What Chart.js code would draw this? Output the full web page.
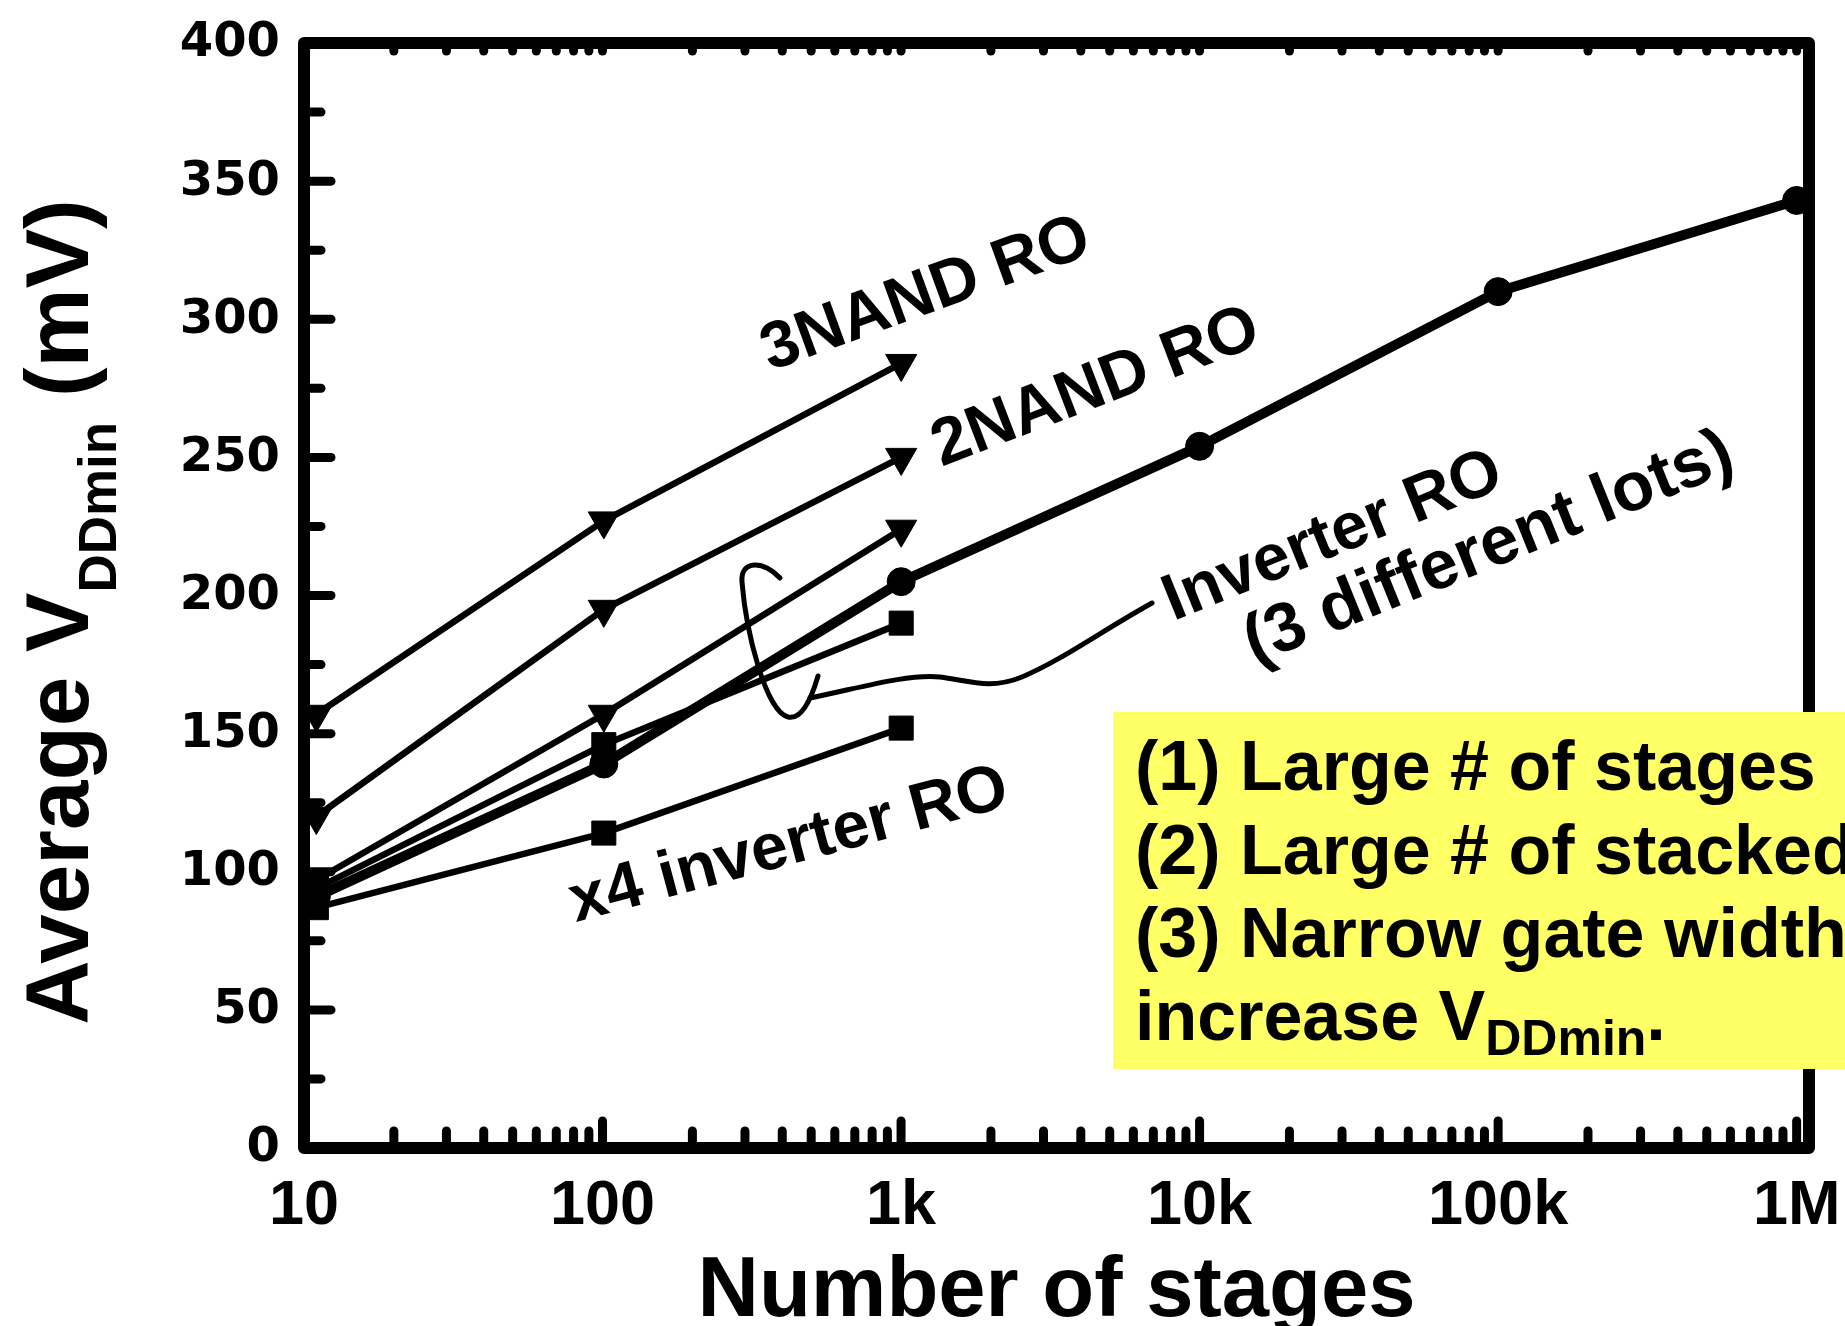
<!DOCTYPE html>
<html>
<head>
<meta charset="utf-8">
<script src="https://cdn.jsdelivr.net/npm/chart.js@4.4.1/dist/chart.umd.min.js"></script>
<style>
  html, body { margin: 0; padding: 0; background: #fff; }
  #chart { display: block; }
</style>
</head>
<body>
<canvas id="chart" width="1845" height="1326"></canvas>
<script>
// ring oscillators use odd stage counts, so the points sit just right of each decade
const STAGES = [11, 101, 1001, 10001, 100001, 1000001];

const INVERTER_LOT_A = [91, 139, 205, 254, 310, 343];
const INVERTER_LOT_B = [97, 157, 224];
const INVERTER_LOT_C = [94, 146, 190];
const NAND2_RO = [120, 195, 250];
const NAND3_RO = [157, 227, 284];
const X4_INVERTER_RO = [87, 114, 152];

const X_TICK_VALUES = [10, 100, 1000, 10000, 100000, 1000000];
const X_TICK_LABELS = ["10", "100", "1k", "10k", "100k", "1M"];
const Y_TICK_VALUES = [0, 50, 100, 150, 200, 250, 300, 350, 400];
const Y_TICK_LABELS = ["0", "50", "100", "150", "200", "250", "300", "350", "400"];

const NOTE_LINES = ["(1) Large # of stages", "(2) Large # of stacked", "(3) Narrow gate width"];

const FONT = '"Liberation Sans", Arial, sans-serif';
const Y_TICK_FONT = '"DejaVu Sans", Verdana, sans-serif';

const SERIES_LABELS = [
  { text: "3NAND RO", x: 926, y: 295, angle: 20, size: 66 },
  { text: "2NAND RO", x: 1096, y: 388, angle: 21, size: 66 },
  { text: "Inverter RO", x: 1333, y: 537, angle: 22, size: 66 },
  { text: "(3 different lots)", x: 1489, y: 549, angle: 22, size: 69 },
  { text: "x4 inverter RO", x: 789, y: 846, angle: 15, size: 66 },
];

function toPoints(values) {
  return values.map((value, index) => ({ x: STAGES[index], y: value }));
}

function seriesDataset(label, values, pointStyle, extra = {}) {
  const radius = pointStyle === "circle" ? 14 : pointStyle === "rect" ? 17 : 18;
  return {
    label,
    data: toPoints(values),
    borderColor: "#000",
    backgroundColor: "#000",
    borderWidth: 6.5,
    borderJoinStyle: "round",
    borderCapStyle: "round",
    pointStyle,
    pointRadius: radius,
    pointRotation: pointStyle === "triangle" ? 180 : 0,
    pointBackgroundColor: "#000",
    pointBorderColor: "#000",
    pointBorderWidth: 1,
    tension: 0,
    clip: false,
    ...extra,
  };
}

function drawRuns(ctx, runs, x, y, align) {
  let total = 0;
  runs.forEach((run) => {
    ctx.font = `bold ${run.size}px ${FONT}`;
    run.width = ctx.measureText(run.text).width;
    total += run.width;
  });
  let cursor = align === "center" ? x - total / 2 : x;
  ctx.textAlign = "left";
  ctx.textBaseline = "alphabetic";
  runs.forEach((run) => {
    ctx.font = `bold ${run.size}px ${FONT}`;
    ctx.fillText(run.text, cursor, y + (run.dy || 0));
    cursor += run.width;
  });
}

const framePlugin = {
  id: "frameAndNotes",
  afterDatasetsDraw(chart) {
    const { ctx, chartArea } = chart;
    const xScale = chart.scales.x;
    const yScale = chart.scales.y;
    const left = chartArea.left;
    const right = chartArea.right;
    const top = chartArea.top;
    const bottom = chartArea.bottom;

    ctx.save();
    ctx.strokeStyle = "#000";
    ctx.fillStyle = "#000";
    ctx.lineCap = "round";
    ctx.lineJoin = "round";

    // frame
    ctx.lineWidth = 12;
    ctx.strokeRect(left, top, right - left, bottom - top);

    // inward ticks
    ctx.lineWidth = 9;
    const tick = (x1, y1, x2, y2) => {
      ctx.beginPath();
      ctx.moveTo(x1, y1);
      ctx.lineTo(x2, y2);
      ctx.stroke();
    };
    X_TICK_VALUES.forEach((decade, index) => {
      const x = xScale.getPixelForValue(decade);
      tick(x, bottom, x, bottom - 27);
      tick(x, top, x, top + 8);
      if (index === X_TICK_VALUES.length - 1) return;
      for (let k = 2; k <= 9; k++) {
        const mx = xScale.getPixelForValue(decade * k);
        tick(mx, bottom, mx, bottom - 17);
        tick(mx, top, mx, top + 8);
      }
    });
    for (let v = 0; v <= 400; v += 25) {
      const y = yScale.getPixelForValue(v);
      tick(left, y, left + (v % 50 === 0 ? 27 : 17), y);
    }

    // tick labels
    ctx.font = `bold 48px ${Y_TICK_FONT}`;
    ctx.textAlign = "right";
    ctx.textBaseline = "middle";
    Y_TICK_VALUES.forEach((value, index) => {
      ctx.fillText(Y_TICK_LABELS[index], left - 24, yScale.getPixelForValue(value) + 1);
    });
    ctx.font = `bold 63px ${FONT}`;
    ctx.textAlign = "center";
    ctx.textBaseline = "alphabetic";
    X_TICK_VALUES.forEach((value, index) => {
      ctx.fillText(X_TICK_LABELS[index], xScale.getPixelForValue(value), bottom + 76);
    });

    // axis titles
    ctx.font = `bold 85px ${FONT}`;
    ctx.fillText("Number of stages", (left + right) / 2, 1316);

    ctx.save();
    ctx.translate(88, 612);
    ctx.rotate(-Math.PI / 2);
    drawRuns(ctx, [
      { text: "Average V", size: 89 },
      { text: "DDmin", size: 53, dy: 28 },
      { text: " (mV)", size: 89 },
    ], 0, 0, "center");
    ctx.restore();

    // series labels
    SERIES_LABELS.forEach((item) => {
      ctx.save();
      ctx.translate(item.x, item.y);
      ctx.rotate((-item.angle * Math.PI) / 180);
      ctx.font = `bold ${item.size}px ${FONT}`;
      ctx.textAlign = "center";
      ctx.textBaseline = "middle";
      ctx.fillText(item.text, 0, 0);
      ctx.restore();
    });

    // loop round the three inverter lots, with its leader
    ctx.lineWidth = 5;
    ctx.beginPath();
    ctx.moveTo(780, 578);
    ctx.bezierCurveTo(765, 561, 740, 559, 742, 582);
    ctx.bezierCurveTo(746, 632, 766, 712, 788, 717);
    ctx.bezierCurveTo(801, 720, 811, 700, 818, 676);
    ctx.stroke();
    ctx.beginPath();
    ctx.moveTo(810, 698);
    ctx.bezierCurveTo(860, 688, 905, 674, 940, 677);
    ctx.bezierCurveTo(970, 681, 990, 690, 1022, 677);
    ctx.bezierCurveTo(1062, 660, 1100, 632, 1152, 603);
    ctx.stroke();

    // yellow note box
    ctx.fillStyle = "#ffff66";
    ctx.fillRect(1113, 712, 1845 - 1113, 1069 - 712);
    ctx.fillStyle = "#000";
    ctx.font = `bold 70px ${FONT}`;
    ctx.textAlign = "left";
    ctx.textBaseline = "alphabetic";
    NOTE_LINES.forEach((line, index) => {
      ctx.fillText(line, 1135, 790 + index * 83.5);
    });
    drawRuns(ctx, [
      { text: "increase V", size: 70 },
      { text: "DDmin", size: 50, dy: 15 },
      { text: ".", size: 70 },
    ], 1135, 1040, "left");

    ctx.restore();
  },
};

new Chart(document.getElementById("chart").getContext("2d"), {
  type: "line",
  data: {
    datasets: [
      seriesDataset("Inverter RO lot A", INVERTER_LOT_A, "circle", { borderWidth: 10 }),
      seriesDataset("Inverter RO lot B", INVERTER_LOT_B, "triangle"),
      seriesDataset("Inverter RO lot C", INVERTER_LOT_C, "rect"),
      seriesDataset("2NAND RO", NAND2_RO, "triangle"),
      seriesDataset("3NAND RO", NAND3_RO, "triangle"),
      seriesDataset("x4 inverter RO", X4_INVERTER_RO, "rect"),
    ],
  },
  options: {
    responsive: false,
    animation: false,
    layout: { padding: { left: 304, right: 36, top: 43, bottom: 178 } },
    plugins: { legend: { display: false }, tooltip: { enabled: false } },
    scales: {
      x: { type: "logarithmic", min: 10, max: 1.1e6, display: false },
      y: { type: "linear", min: 0, max: 400, display: false },
    },
  },
  plugins: [framePlugin],
});
</script>
</body>
</html>
